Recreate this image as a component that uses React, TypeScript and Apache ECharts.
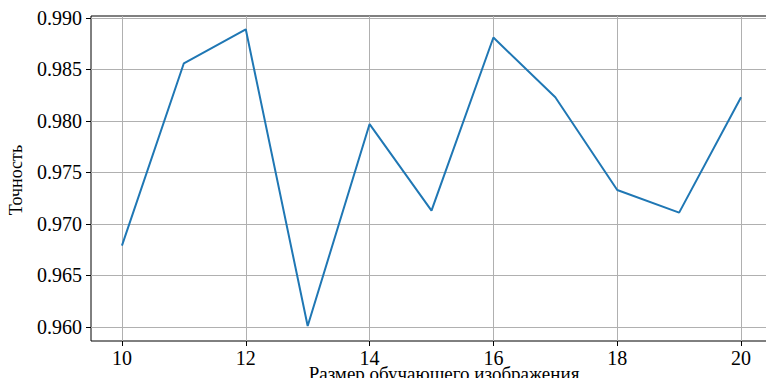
import React, { useEffect, useRef } from "react";
import * as echarts from "echarts";

// Training image size vs. accuracy
const sizes = [10, 11, 12, 13, 14, 15, 16, 17, 18, 19, 20];
const accuracy = [0.9679, 0.9856, 0.9889, 0.9601, 0.9797, 0.9713, 0.9881, 0.9823, 0.9733, 0.9711, 0.9823];
const xTicks = [10, 12, 14, 16, 18, 20];
const yTicks = [0.96, 0.965, 0.97, 0.975, 0.98, 0.985, 0.99];

const xLabel = "Размер обучающего изображения";
const yLabel = "Точность";

const FONT = "Liberation Serif";

export default function App() {
  const ref = useRef<HTMLDivElement>(null);

  useEffect(() => {
    if (!ref.current) return;
    const chart = echarts.init(ref.current, undefined, { renderer: "svg" });
    chart.setOption({
      animation: false,
      backgroundColor: "#ffffff",
      textStyle: { fontFamily: FONT, color: "#000" },
      grid: {
        left: 91,
        top: 16,
        width: 681,
        height: 325,
        show: true,
        borderColor: "#000",
        borderWidth: 1,
        backgroundColor: "transparent",
      },
      xAxis: {
        type: "value",
        min: 9.5,
        max: 20.5,
        axisLine: { show: false },
        axisTick: {
          show: true,
          length: 5,
          customValues: xTicks,
          lineStyle: { color: "#000", width: 1 },
        },
        axisLabel: {
          customValues: xTicks,
          margin: 7,
          fontFamily: FONT,
          fontSize: 20,
          color: "#000",
          formatter: (v: number) => String(v),
        },
        splitLine: { show: true, lineStyle: { color: "#b0b0b0", width: 1 } },
      },
      yAxis: {
        type: "value",
        min: 0.95864,
        max: 0.99019,
        axisLine: { show: false },
        axisTick: {
          show: true,
          length: 5,
          customValues: yTicks,
          lineStyle: { color: "#000", width: 1 },
        },
        axisLabel: {
          customValues: yTicks,
          margin: 9,
          fontFamily: FONT,
          fontSize: 20,
          color: "#000",
          formatter: (v: number) => v.toFixed(3),
        },
        splitLine: { show: true, lineStyle: { color: "#b0b0b0", width: 1 } },
      },
      series: [
        {
          type: "line",
          data: sizes.map((s, i) => [s, accuracy[i]]),
          symbol: "none",
          lineStyle: { color: "#1f77b4", width: 2 },
          z: 3,
        },
      ],
      graphic: [
        {
          type: "text",
          x: 16,
          y: 180,
          rotation: Math.PI / 2,
          style: {
            text: yLabel,
            fontFamily: FONT,
            fontSize: 18,
            fill: "#000",
            align: "center",
            verticalAlign: "middle",
          },
        },
        {
          type: "text",
          x: 444,
          y: 373,
          style: {
            text: xLabel,
            fontFamily: FONT,
            fontSize: 19,
            fill: "#000",
            align: "center",
            verticalAlign: "middle",
          },
        },
      ],
    });
    return () => chart.dispose();
  }, []);

  return (
    <div
      ref={ref}
      style={{ position: "fixed", left: 0, top: 0, width: 780, height: 378, overflow: "hidden" }}
    />
  );
}
